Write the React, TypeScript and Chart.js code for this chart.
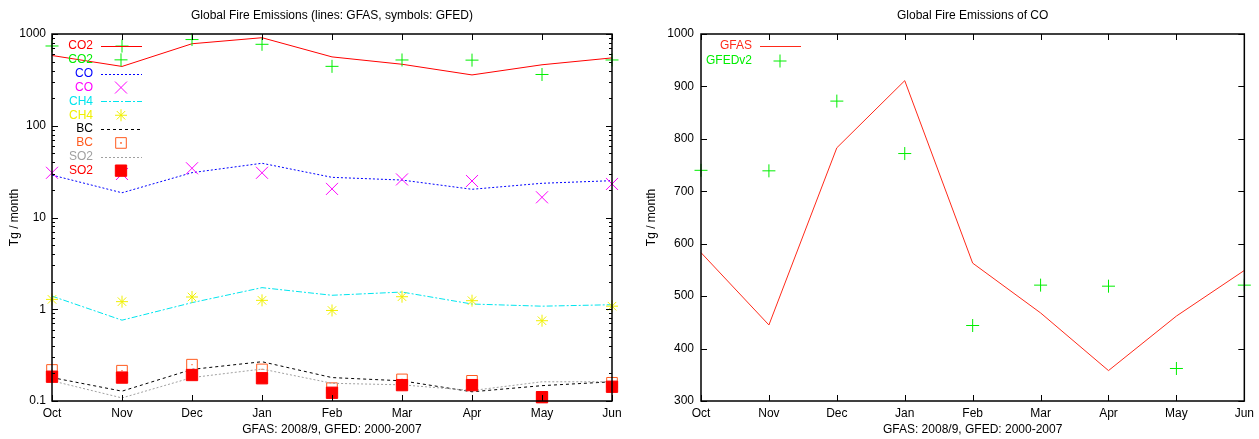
import React, { useEffect, useRef } from 'react';
import { Chart, registerables } from 'chart.js';
Chart.register(...registerables);

// ---------- data ----------
const months = ['Oct', 'Nov', 'Dec', 'Jan', 'Feb', 'Mar', 'Apr', 'May', 'Jun'];

// left chart (log scale)
const co2Gfas = [583, 443, 783, 911, 563, 468, 358, 462, 549];
const co2Gfed = [740, 739, 870, 772, 444, 521, 519, 362, 521];
const coGfas = [29, 18.6, 30.8, 39, 27.4, 25.6, 20.3, 23.6, 25.2];
const coGfed = [30.7, 29.8, 34.4, 30.7, 20.5, 26, 25, 16.6, 23.2];
const ch4Gfas = [1.39, 0.76, 1.18, 1.72, 1.42, 1.54, 1.14, 1.08, 1.12];
const ch4Gfed = [1.28, 1.21, 1.36, 1.25, 0.97, 1.37, 1.24, 0.75, 1.08];
const bcGfas = [0.18, 0.128, 0.221, 0.268, 0.18, 0.166, 0.126, 0.147, 0.162];
const bcGfed = [0.218, 0.214, 0.249, 0.221, 0.138, 0.172, 0.166, 0.111, 0.158];
const so2Gfas = [0.166, 0.108, 0.18, 0.223, 0.156, 0.15, 0.13, 0.162, 0.162];
const so2Gfed = [0.184, 0.18, 0.192, 0.177, 0.123, 0.149, 0.149, 0.11, 0.143];

// right chart (linear)
const coGfasRight = [583, 445, 783, 911, 563, 468, 358, 462, 549];
const coGfedRight = [740, 739, 872, 772, 444, 521, 519, 362, 521];

const logTicks = [0.1, 1, 10, 100, 1000];
const linTicks = [300, 400, 500, 600, 700, 800, 900, 1000];

const leftTitle = 'Global Fire Emissions (lines: GFAS, symbols: GFED)';
const rightTitle = 'Global Fire Emissions of CO';
const xTitle = 'GFAS: 2008/9, GFED: 2000-2007';
const yTitle = 'Tg / month';

// ---------- styles ----------
const FONT = "'Liberation Sans Narrow', 'Liberation Sans', Arial, sans-serif";
const FSIZE = 12;

type Series = {
  label: string;
  data: number[];
  color: string;
  kind: 'line' | 'mark';
  dash?: number[];
  pointStyle?: string;
  radius?: number;
  fill?: boolean;
  dot?: boolean;
};

const leftSeries: Series[] = [
  { label: 'CO2', data: co2Gfas, color: '#ff0000', kind: 'line', dash: [] },
  { label: 'CO2', data: co2Gfed, color: '#00ee00', kind: 'mark', pointStyle: 'cross', radius: 6.5 },
  { label: 'CO', data: coGfas, color: '#0000ff', kind: 'line', dash: [2, 2] },
  { label: 'CO', data: coGfed, color: '#ff00ff', kind: 'mark', pointStyle: 'crossRot', radius: 8.5 },
  { label: 'CH4', data: ch4Gfas, color: '#00e5ee', kind: 'line', dash: [6, 2, 2, 2] },
  { label: 'CH4', data: ch4Gfed, color: '#f0f000', kind: 'mark', pointStyle: 'star', radius: 6 },
  { label: 'BC', data: bcGfas, color: '#000000', kind: 'line', dash: [3, 3] },
  { label: 'BC', data: bcGfed, color: '#ff5a1e', kind: 'mark', pointStyle: 'rect', radius: 7.5, dot: true },
  { label: 'SO2', data: so2Gfas, color: '#a0a0a0', kind: 'line', dash: [2, 2] },
  { label: 'SO2', data: so2Gfed, color: '#ff0000', kind: 'mark', pointStyle: 'rect', radius: 8, fill: true },
];

const rightSeries: Series[] = [
  { label: 'GFAS', data: coGfasRight, color: '#ff2a1a', kind: 'line', dash: [] },
  { label: 'GFEDv2', data: coGfedRight, color: '#00ee00', kind: 'mark', pointStyle: 'cross', radius: 6.5 },
];

function makeDatasets(series: Series[]) {
  const out: any[] = [];
  series.forEach((s, i) => {
    const isLine = s.kind === 'line';
    out.push({
      label: s.label,
      data: s.data,
      borderColor: s.color,
      backgroundColor: s.fill ? s.color : 'rgba(0,0,0,0)',
      borderWidth: 1,
      borderDash: s.dash || [],
      showLine: isLine,
      pointRadius: isLine ? 0 : s.radius,
      pointStyle: s.pointStyle || 'circle',
      pointBorderWidth: 1,
      pointBorderColor: s.color,
      pointBackgroundColor: s.fill ? s.color : 'rgba(0,0,0,0)',
      tension: 0,
      clip: false,
      order: 100 - i * 2,
    });
    if (s.dot) {
      out.push({
        label: s.label + ' dot',
        data: s.data,
        showLine: false,
        pointRadius: 0.8,
        pointStyle: 'rect',
        pointBorderWidth: 0,
        pointBackgroundColor: s.color,
        borderColor: s.color,
        clip: false,
        order: 99 - i * 2,
      });
    }
  });
  return out;
}

function drawMark(ctx: CanvasRenderingContext2D, style: string, x: number, y: number, r: number, color: string, fill?: boolean, dot?: boolean) {
  ctx.save();
  ctx.setLineDash([]);
  ctx.strokeStyle = color;
  ctx.fillStyle = color;
  ctx.lineWidth = 1;
  ctx.beginPath();
  if (style === 'cross' || style === 'star') {
    ctx.moveTo(x, y - r); ctx.lineTo(x, y + r);
    ctx.moveTo(x - r, y); ctx.lineTo(x + r, y);
  }
  if (style === 'crossRot' || style === 'star') {
    const o = r * Math.SQRT1_2;
    ctx.moveTo(x - o, y - o); ctx.lineTo(x + o, y + o);
    ctx.moveTo(x - o, y + o); ctx.lineTo(x + o, y - o);
  }
  if (style === 'rect') {
    const s = r * Math.SQRT1_2;
    ctx.rect(x - s, y - s, 2 * s, 2 * s);
    if (fill) ctx.fill();
  }
  ctx.stroke();
  if (dot) ctx.fillRect(x - 0.8, y - 0.8, 1.6, 1.6);
  ctx.restore();
}

type Deco = {
  title: string;
  yTitleX: number;
  yValues: number[];
  minor: number[];
  legend: { series: Series[]; y0: number; dy: number; textRight: number; l1: number; l2: number; mx: number };
};

function decoPlugin(d: Deco) {
  return {
    id: 'deco',
    afterDraw(chart: any) {
      const { ctx, chartArea: a, scales } = chart;
      ctx.save();
      const font = `${FSIZE}px ${FONT}`;
      // frame
      ctx.strokeStyle = '#000';
      ctx.lineWidth = 1.5;
      ctx.setLineDash([]);
      ctx.strokeRect(a.left, a.top, a.right - a.left, a.bottom - a.top);
      ctx.lineWidth = 1;
      const seg = (x1: number, y1: number, x2: number, y2: number) => {
        ctx.beginPath(); ctx.moveTo(x1, y1); ctx.lineTo(x2, y2); ctx.stroke();
      };
      // x ticks
      months.forEach((_, i) => {
        const x = Math.round(scales.x.getPixelForValue(i)) + 0.5;
        seg(x, a.bottom, x, a.bottom - 6);
        seg(x, a.top, x, a.top + 6);
      });
      // y major ticks
      d.yValues.forEach((v) => {
        const y = Math.round(scales.y.getPixelForValue(v)) + 0.5;
        seg(a.left, y, a.left + 6, y);
        seg(a.right, y, a.right - 6, y);
      });
      d.minor.forEach((v) => {
        const y = Math.round(scales.y.getPixelForValue(v)) + 0.5;
        seg(a.left, y, a.left + 3, y);
        seg(a.right, y, a.right - 3, y);
      });
      // titles
      ctx.fillStyle = '#000';
      ctx.font = font;
      ctx.textAlign = 'center';
      ctx.textBaseline = 'middle';
      const cx = (a.left + a.right) / 2;
      ctx.fillText(d.title, cx, 16);
      ctx.fillText(xTitle, cx, 430);
      ctx.save();
      ctx.translate(d.yTitleX, (a.top + a.bottom) / 2);
      ctx.rotate(-Math.PI / 2);
      ctx.fillText(yTitle, 0, 0);
      ctx.restore();
      // legend
      const L = d.legend;
      L.series.forEach((s, i) => {
        const y = L.y0 + i * L.dy;
        ctx.fillStyle = s.color;
        ctx.textAlign = 'right';
        ctx.fillText(s.label, L.textRight, y);
        if (s.kind === 'line') {
          ctx.strokeStyle = s.color;
          ctx.lineWidth = 1;
          ctx.setLineDash(s.dash || []);
          const yy = Math.round(y) + 0.5;
          seg(L.l1, yy, L.l2, yy);
          ctx.setLineDash([]);
        } else {
          drawMark(ctx, s.pointStyle || 'cross', L.mx, y, s.radius || 6, s.color, s.fill, s.dot);
        }
      });
      ctx.restore();
    },
  };
}

const tickFont = { family: FONT, size: FSIZE };

function xScale() {
  return {
    type: 'category',
    offset: false,
    grid: { display: false, drawTicks: false },
    border: { display: false },
    ticks: { font: tickFont, color: '#000', padding: 5, maxRotation: 0, autoSkip: false },
    afterFit: (s: any) => { s.height = 38; },
  };
}

function leftConfig(): any {
  const minor: number[] = [];
  [0.1, 1, 10, 100].forEach((dec) => { for (let k = 2; k <= 9; k++) minor.push(k * dec); });
  return {
    type: 'line',
    data: { labels: months, datasets: makeDatasets(leftSeries) },
    options: {
      responsive: false,
      animation: false,
      devicePixelRatio: 1,
      events: [],
      layout: { padding: { top: 34, right: 17, bottom: 0, left: 0 } },
      plugins: { legend: { display: false }, tooltip: { enabled: false }, title: { display: false } },
      scales: {
        x: xScale(),
        y: {
          type: 'logarithmic',
          min: 0.1,
          max: 1000,
          afterBuildTicks: (s: any) => { s.ticks = logTicks.map((v) => ({ value: v, major: true })); },
          ticks: { font: tickFont, color: '#000', padding: 6, autoSkip: false, callback: (v: any) => String(v) },
          grid: { display: false, drawTicks: false },
          border: { display: false },
          afterFit: (s: any) => { s.width = 52; },
        },
      },
    },
    plugins: [decoPlugin({
      title: leftTitle,
      yTitleX: 15,
      yValues: logTicks,
      minor,
      legend: { series: leftSeries, y0: 46, dy: 13.85, textRight: 93, l1: 101, l2: 142, mx: 121 },
    })],
  };
}

function rightConfig(): any {
  return {
    type: 'line',
    data: { labels: months, datasets: makeDatasets(rightSeries) },
    options: {
      responsive: false,
      animation: false,
      devicePixelRatio: 1,
      events: [],
      layout: { padding: { top: 34, right: 13, bottom: 0, left: 0 } },
      plugins: { legend: { display: false }, tooltip: { enabled: false }, title: { display: false } },
      scales: {
        x: xScale(),
        y: {
          type: 'linear',
          min: 300,
          max: 1000,
          afterBuildTicks: (s: any) => { s.ticks = linTicks.map((v) => ({ value: v })); },
          ticks: { font: tickFont, color: '#000', padding: 7, autoSkip: false, callback: (v: any) => String(v) },
          grid: { display: false, drawTicks: false },
          border: { display: false },
          afterFit: (s: any) => { s.width = 72; },
        },
      },
    },
    plugins: [decoPlugin({
      title: rightTitle,
      yTitleX: 23,
      yValues: linTicks,
      minor: [],
      legend: { series: rightSeries, y0: 46, dy: 15, textRight: 123, l1: 131, l2: 172, mx: 151 },
    })],
  };
}

function ChartCanvas({ make, width, height }: { make: () => any; width: number; height: number }) {
  const ref = useRef<HTMLCanvasElement | null>(null);
  useEffect(() => {
    const c = new Chart(ref.current as HTMLCanvasElement, make());
    return () => c.destroy();
  }, []);
  return <canvas ref={ref} width={width} height={height} style={{ display: 'block', width, height }} />;
}

export default function App() {
  return (
    <div style={{ position: 'absolute', left: 0, top: 0, width: 1259, height: 439, background: '#fff', display: 'flex' }}>
      <ChartCanvas make={leftConfig} width={629} height={439} />
      <ChartCanvas make={rightConfig} width={630} height={439} />
    </div>
  );
}
